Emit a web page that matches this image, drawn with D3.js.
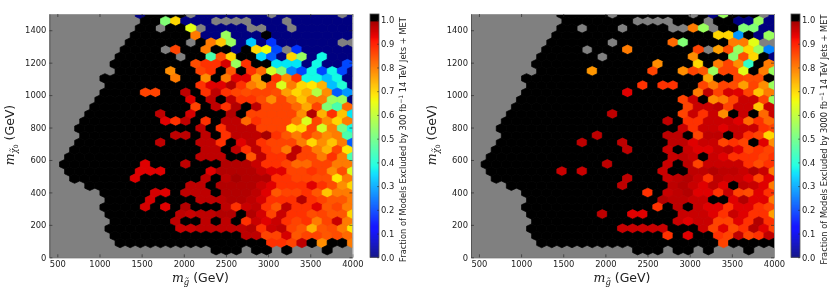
<!DOCTYPE html>
<html>
<head>
<meta charset="utf-8">
<script src="https://cdnjs.cloudflare.com/ajax/libs/d3/7.8.5/d3.min.js"></script>
<style>
  html, body { margin: 0; padding: 0; background: #fff; }
  svg { display: block; filter: blur(0.4px); }
  text { font-family: "DejaVu Sans", sans-serif; fill: #222; }
</style>
</head>
<body>
<script>
const _ = null;   // no models in the bin, the grey axes background shows through
const K = 100;    // every model excluded, drawn black

// fraction excluded in percent, one list per hexbin row, top row first
const rows300 = [
  [_,_,_,_,_,_,_,_,_,0,K,K,K,K,_,0,0,0,0,0,0,0,_,0,0,0,0,0,0,_,0],
  [_,_,_,_,_,_,_,_,_,K,K,52,70,0,0,0,_,_,_,_,0,0,0,_,0,0,0,0,0,0],
  [_,_,_,_,_,_,_,_,_,K,K,_,K,K,64,_,0,0,0,0,_,_,0,0,_,0,0,0,0,0,0],
  [_,_,_,_,_,_,_,_,K,K,K,K,K,K,80,0,0,55,0,0,0,K,0,0,0,0,0,0,0,0],
  [_,_,_,_,_,_,_,_,K,K,K,K,K,K,_,K,80,72,55,0,33,0,18,0,0,0,0,0,0,_,_],
  [_,_,_,_,_,_,_,K,K,K,K,_,86,K,K,80,K,K,0,K,70,66,20,_,18,0,0,0,0,0],
  [_,_,_,_,_,_,_,K,K,K,K,K,K,_,K,K,45,85,70,K,K,35,22,0,70,55,0,38,0,0,0],
  [_,_,_,_,_,_,K,K,K,K,K,K,K,K,85,88,88,95,55,88,K,K,36,36,36,0,38,0,0,20],
  [_,_,_,_,_,_,_,K,K,K,K,K,78,K,K,86,88,K,84,K,88,82,62,52,26,20,38,20,38,20,0],
  [_,_,_,_,_,K,K,K,K,K,K,K,80,K,K,78,K,80,94,94,76,K,88,78,88,38,38,32,38,0],
  [_,_,_,_,_,_,K,K,K,K,K,K,K,K,K,88,94,94,98,88,80,76,86,63,80,70,68,74,32,40,0],
  [_,_,_,_,_,K,K,K,K,86,86,K,K,97,K,88,97,88,86,85,86,86,85,76,70,74,58,78,22,28],
  [_,_,_,_,_,K,K,K,K,K,K,K,K,K,94,K,97,K,97,88,88,85,78,86,80,72,80,80,55,55,0],
  [_,_,_,_,K,K,K,K,K,K,K,K,K,K,86,K,97,88,98,K,97,86,86,86,82,75,86,52,45,82],
  [_,_,_,_,K,K,K,K,K,K,K,97,K,K,95,K,K,K,98,K,86,86,86,86,86,78,98,74,88,72,36],
  [_,_,_,K,K,K,K,K,K,K,K,94,88,97,K,88,K,97,97,82,88,86,86,86,80,63,86,78,70,80],
  [_,_,_,K,K,K,K,K,K,K,K,K,K,K,K,97,K,88,97,97,97,86,86,86,68,70,86,62,80,50,38],
  [_,_,_,K,K,K,K,K,K,K,K,K,97,97,K,97,K,88,97,97,97,99,88,84,80,86,82,78,80,45],
  [_,_,_,K,K,K,K,K,K,K,K,97,K,K,K,97,97,88,K,94,97,88,86,86,86,80,70,78,72,80,22],
  [_,_,K,K,K,K,K,K,K,K,K,K,K,K,K,97,97,K,97,88,97,88,86,80,97,86,80,74,86,68],
  [_,_,K,K,K,K,K,K,K,K,K,K,K,K,K,97,97,97,K,K,84,97,88,88,97,86,86,80,88,80,45],
  [_,K,K,K,K,K,K,K,K,94,K,K,K,97,K,K,K,98,98,98,96,88,88,86,82,82,86,86,80,80],
  [_,_,K,K,K,K,K,K,K,94,94,94,K,K,K,K,94,98,98,98,98,96,94,94,86,86,88,86,78,85,63],
  [_,_,K,K,K,K,K,K,94,K,K,K,K,K,K,97,K,97,99,98,98,98,88,88,86,86,85,85,68,80],
  [_,_,_,_,K,K,K,K,K,K,K,K,K,K,97,97,K,98,98,98,98,96,94,88,88,88,94,88,85,78,70],
  [_,_,_,_,_,K,K,K,K,K,95,94,K,97,97,97,K,98,98,98,97,94,84,86,86,88,84,72,80,80],
  [_,_,_,_,_,_,K,K,K,K,95,K,K,K,K,97,97,97,98,98,97,95,88,88,88,98,88,86,84,84,80],
  [_,_,_,_,_,K,K,K,K,95,K,94,K,98,K,K,K,97,88,96,97,88,84,97,88,88,94,84,86,80],
  [_,_,_,_,_,_,K,K,K,K,K,K,K,97,96,97,97,98,98,K,98,95,86,96,88,88,85,86,84,84,70],
  [_,_,_,_,_,_,K,K,K,K,K,K,97,K,K,97,K,97,K,88,96,94,96,88,86,88,80,86,96,80],
  [_,_,_,_,_,_,K,K,K,K,K,K,K,96,96,97,97,97,97,97,98,88,96,97,86,84,74,84,85,80,68],
  [_,_,_,_,_,_,K,K,K,K,K,K,K,K,K,K,K,K,K,97,97,86,86,95,84,86,86,84,85,82],
  [_,_,_,_,_,_,_,K,K,K,K,K,K,K,K,K,K,K,K,K,K,K,88,88,86,97,K,78,K,K,80],
  [_,_,_,_,_,_,_,_,_,_,_,_,_,_,_,_,K,K,K,_,K,K,_,K,_,_,_,K,_,_]
];

const rows3000 = [
  [_,_,_,_,_,_,_,_,_,K,K,K,K,K,_,K,K,K,K,K,K,K,_,K,0,55,K,K,K,_,0],
  [_,_,_,_,_,_,_,_,_,K,K,K,K,K,K,K,_,_,_,_,K,K,K,_,K,K,0,0,55,0],
  [_,_,_,_,_,_,_,_,_,K,K,_,K,K,K,_,K,K,K,K,_,_,80,55,_,K,K,52,52,0,0],
  [_,_,_,_,_,_,_,_,K,K,K,K,K,K,K,K,K,K,K,K,K,K,K,K,70,70,28,K,0,55],
  [_,_,_,_,_,_,_,_,K,K,K,K,K,K,_,K,K,K,K,K,82,52,K,K,K,K,80,80,64,_,_],
  [_,_,_,_,_,_,_,K,K,K,K,_,K,K,K,80,K,K,K,K,K,K,86,_,76,85,55,70,55,26],
  [_,_,_,_,_,_,_,K,K,K,K,K,K,_,K,K,K,K,K,K,K,K,78,K,K,K,53,85,70,K,0],
  [_,_,_,_,_,_,K,K,K,K,K,K,K,K,K,K,K,K,78,K,K,K,70,K,80,86,78,42,K,80],
  [_,_,_,_,_,_,_,K,K,K,K,K,77,K,K,K,K,K,86,K,K,78,86,84,55,86,86,64,K,80,55],
  [_,_,_,_,_,K,K,K,K,K,K,K,K,K,K,K,K,K,K,K,K,K,K,75,K,K,86,85,85,K],
  [_,_,_,_,_,_,K,K,K,K,K,K,K,K,K,K,K,88,K,88,88,K,K,86,80,86,85,76,86,78,55],
  [_,_,_,_,_,K,K,K,K,K,K,K,K,K,K,94,K,K,K,K,K,K,80,97,86,95,94,86,72,80],
  [_,_,_,_,_,K,K,K,K,K,K,K,K,K,K,K,K,K,K,K,K,86,96,K,78,80,86,96,96,86,55],
  [_,_,_,_,K,K,K,K,K,K,K,K,K,K,K,K,K,K,K,K,K,86,96,96,97,86,96,96,72,96],
  [_,_,_,_,K,K,K,K,K,K,K,K,K,K,97,K,K,K,K,K,K,86,96,88,96,78,K,96,K,82,96],
  [_,_,_,K,K,K,K,K,K,K,K,K,K,K,K,K,K,K,K,97,K,88,88,96,96,96,94,82,88,82],
  [_,_,_,K,K,K,K,K,K,K,K,K,K,K,K,K,K,K,K,K,K,96,88,96,96,94,96,96,96,88,86],
  [_,_,_,K,K,K,K,K,K,K,K,K,97,K,K,K,K,K,K,97,97,K,86,97,97,K,96,88,86,70],
  [_,_,_,K,K,K,K,K,K,K,K,97,K,K,K,97,K,K,K,K,97,97,94,96,96,86,88,86,K,94,78],
  [_,_,K,K,K,K,K,K,K,K,K,K,K,K,K,97,K,K,K,96,K,96,94,94,96,97,94,86,88,86],
  [_,_,K,K,K,K,K,K,K,K,K,K,K,K,K,K,K,K,K,K,96,97,96,K,96,94,88,88,88,86,88],
  [_,K,K,K,K,K,K,K,K,K,K,K,K,97,K,K,K,K,K,96,K,97,86,96,96,96,96,88,85,88],
  [_,_,K,K,K,K,K,K,K,96,K,96,K,K,K,K,K,K,K,96,K,K,97,97,98,97,97,96,98,96,80],
  [_,_,K,K,K,K,K,K,K,K,K,K,K,K,K,97,K,K,K,96,97,98,96,88,97,96,96,94,86,94],
  [_,_,_,_,K,K,K,K,K,K,K,K,K,K,K,97,K,K,K,K,97,98,96,94,97,94,K,97,96,94,80],
  [_,_,_,_,_,K,K,K,K,K,K,K,K,K,K,K,K,88,K,96,97,98,94,94,88,96,86,85,94,88],
  [_,_,_,_,_,_,K,K,K,K,K,K,K,K,K,K,K,K,K,98,97,97,96,96,K,K,94,98,94,94,80],
  [_,_,_,_,_,K,K,K,K,K,K,K,K,K,K,K,K,K,88,K,97,K,96,94,94,88,94,94,88,86],
  [_,_,_,_,_,_,K,K,K,K,K,K,K,97,K,K,94,94,K,K,K,96,96,96,94,88,96,94,88,88,76],
  [_,_,_,_,_,_,K,K,K,K,K,K,K,K,K,K,K,K,K,K,96,94,96,96,86,86,94,88,98,88],
  [_,_,_,_,_,_,K,K,K,K,K,K,K,K,K,96,96,96,96,96,K,K,K,96,86,94,85,88,98,94,86],
  [_,_,_,_,_,_,K,K,K,K,K,K,K,K,K,K,K,K,K,88,K,94,K,K,88,86,97,86,88,97],
  [_,_,_,_,_,_,_,K,K,K,K,K,K,K,K,K,K,K,K,K,K,K,K,K,K,86,K,K,K,K,K],
  [_,_,_,_,_,_,_,_,_,_,_,_,_,_,_,_,K,K,K,_,K,K,_,K,_,_,_,K,_,_]
];

const xTicks = [500, 1000, 1500, 2000, 2500, 3000, 3500, 4000];
const yTicks = [0, 200, 400, 600, 800, 1000, 1200, 1400];
const cbarTicks = [0, 0.1, 0.2, 0.3, 0.4, 0.5, 0.6, 0.7, 0.8, 0.9, 1.0];
const xExtent = [406, 4000];
const yExtent = [0, 1500];
const cbarMax = 1.0253;
const gridX = 30;   // hexbin gridsize
const gridY = 17;

const panels = [
  { rows: rows300, left: 49.4, cbarLeft: 370, labelX: 406, lumi: "300" },
  { rows: rows3000, left: 471, cbarLeft: 791, labelX: 827, lumi: "3000" }
];

const plotW = 303, plotTop = 14, plotBottom = 257.3, cbarW = 9;

// matplotlib's jet, stop for stop
const jetR = d3.scaleLinear().domain([0, 0.35, 0.66, 0.89, 1]).range([0, 0, 1, 1, 0.5]);
const jetG = d3.scaleLinear().domain([0, 0.125, 0.375, 0.64, 0.91, 1]).range([0, 0, 1, 1, 0, 0]);
const jetB = d3.scaleLinear().domain([0, 0.11, 0.34, 0.65, 1]).range([0.5, 1, 1, 0, 0]);

function fracColor(v) {
  if (v >= 0.995) return "#000";
  const t = v / cbarMax;
  return d3.rgb(jetR(t) * 255, jetG(t) * 255, jetB(t) * 255).formatHex();
}

const svg = d3.select("body").append("svg").attr("width", 830).attr("height", 291);

panels.forEach((p, n) => {
  const x = d3.scaleLinear().domain(xExtent).range([p.left, p.left + plotW]);
  const y = d3.scaleLinear().domain(yExtent).range([plotBottom, plotTop]);
  const g = svg.append("g");
  const clipId = `plot-clip-${n}`;

  svg.append("clipPath").attr("id", clipId)
    .append("rect")
      .attr("x", p.left).attr("y", plotTop)
      .attr("width", plotW).attr("height", plotBottom - plotTop);

  g.append("rect")
    .attr("x", p.left).attr("y", plotTop)
    .attr("width", plotW).attr("height", plotBottom - plotTop)
    .attr("fill", "#808080");

  // hex cells: even rows sit on whole grid steps, odd rows half a step over
  const sx = (xExtent[1] - xExtent[0]) / gridX;
  const sy = (yExtent[1] - yExtent[0]) / gridY;
  const cells = [];
  p.rows.forEach((row, r) => {
    const k = 34 - r;
    row.forEach((v, i) => {
      if (v === null) return;
      cells.push({ cx: xExtent[0] + (i + (k % 2) / 2) * sx, cy: k * sy / 2, v: v / 100 });
    });
  });

  const hw = (x(sx) - x(0)) / 2;
  const hh = (y(0) - y(sy)) / 3;
  const hexPath = (d) => {
    const cx = x(d.cx), cy = y(d.cy);
    return "M" + [
      [cx + hw, cy - hh / 2], [cx + hw, cy + hh / 2], [cx, cy + hh],
      [cx - hw, cy + hh / 2], [cx - hw, cy - hh / 2], [cx, cy - hh]
    ].join("L") + "Z";
  };

  g.append("g")
    .attr("clip-path", `url(#${clipId})`)
    .selectAll("path")
    .data(cells)
    .join("path")
      .attr("d", hexPath)
      .attr("fill", (d) => fracColor(d.v))
      .attr("stroke", (d) => fracColor(d.v))
      .attr("stroke-width", 0.7);

  // axes, old matplotlib style with ticks pointing in on all four sides
  const axisBits = (sel, showText) => {
    sel.select(".domain").attr("stroke", "#555").attr("stroke-width", 1);
    sel.selectAll(".tick line").attr("stroke", "#222").attr("stroke-width", 0.6);
    sel.selectAll(".tick text").style("font-size", "8.4px").attr("fill", "#333");
    if (!showText) sel.selectAll(".tick text").remove();
  };

  g.append("g").attr("transform", `translate(0,${plotBottom})`)
    .call(d3.axisBottom(x).tickValues(xTicks).tickFormat(d3.format("d")).tickSizeInner(-3).tickSizeOuter(0).tickPadding(4))
    .call(axisBits, true);
  g.append("g").attr("transform", `translate(0,${plotTop})`)
    .call(d3.axisTop(x).tickValues(xTicks).tickSizeInner(-3).tickSizeOuter(0))
    .call(axisBits, false)
    .select(".domain").attr("stroke", "#999");
  g.append("g").attr("transform", `translate(${p.left},0)`)
    .call(d3.axisLeft(y).tickValues(yTicks).tickFormat(d3.format("d")).tickSizeInner(-3).tickSizeOuter(0).tickPadding(3))
    .call(axisBits, true);
  g.append("g").attr("transform", `translate(${p.left + plotW},0)`)
    .call(d3.axisRight(y).tickValues(yTicks).tickSizeInner(-3).tickSizeOuter(0))
    .call(axisBits, false)
    .select(".domain").attr("stroke", "#999");

  // axis titles
  const xLabel = g.append("text")
    .attr("x", p.left + 151).attr("y", 282)
    .attr("text-anchor", "middle")
    .style("font-size", "12.5px");
  xLabel.append("tspan").text("m").style("font-family", "'DejaVu Serif', serif").style("font-style", "italic");
  xLabel.append("tspan").text("g\u0303").attr("dy", 3).style("font-size", "8.5px")
    .style("font-family", "'DejaVu Serif', serif").style("font-style", "italic");
  xLabel.append("tspan").text(" (GeV)").attr("dy", -3);

  const yLabel = g.append("text")
    .attr("transform", `translate(${p.left - 35.5},135) rotate(-90)`)
    .attr("text-anchor", "middle")
    .style("font-size", "12.5px");
  yLabel.append("tspan").text("m").style("font-family", "'DejaVu Serif', serif").style("font-style", "italic");
  yLabel.append("tspan").text("\u03C7\u0303").attr("dy", 3).style("font-size", "8.5px")
    .style("font-family", "'DejaVu Serif', serif").style("font-style", "italic");
  yLabel.append("tspan").text("0").attr("dy", 1.5).style("font-size", "6px");
  yLabel.append("tspan").text(" (GeV)").attr("dy", -4.5);

  // colour bar
  const cy = d3.scaleLinear().domain([0, cbarMax]).range([plotBottom, plotTop]);
  const levels = d3.range(0, cbarMax, cbarMax / 243);
  g.append("g").selectAll("rect")
    .data(levels)
    .join("rect")
      .attr("x", p.cbarLeft).attr("width", cbarW)
      .attr("y", (d) => cy(d + cbarMax / 243))
      .attr("height", (plotBottom - plotTop) / 243 + 0.4)
      .attr("fill", (d) => fracColor(d));
  g.append("rect")
    .attr("x", p.cbarLeft).attr("y", plotTop)
    .attr("width", cbarW).attr("height", plotBottom - plotTop)
    .attr("fill", "none").attr("stroke", "#555").attr("stroke-width", 0.8);

  const cAxis = g.append("g").attr("transform", `translate(${p.cbarLeft + cbarW},0)`)
    .call(d3.axisRight(cy).tickValues(cbarTicks).tickFormat(d3.format(".1f")).tickSizeInner(-2).tickSizeOuter(0).tickPadding(2));
  cAxis.select(".domain").remove();
  cAxis.selectAll(".tick line").attr("stroke", "#222").attr("stroke-width", 0.5);
  cAxis.selectAll(".tick text").style("font-size", "8.4px").attr("fill", "#333");

  const cLabel = g.append("text")
    .attr("transform", `translate(${p.labelX},139.5) rotate(-90)`)
    .attr("text-anchor", "middle")
    .style("font-size", "8.3px");
  cLabel.append("tspan").text(`Fraction of Models Excluded by ${p.lumi} fb`);
  cLabel.append("tspan").text("\u22121").attr("dy", -3).style("font-size", "6px");
  cLabel.append("tspan").text("  14 TeV Jets + MET").attr("dy", 3);
});
</script>
</body>
</html>
